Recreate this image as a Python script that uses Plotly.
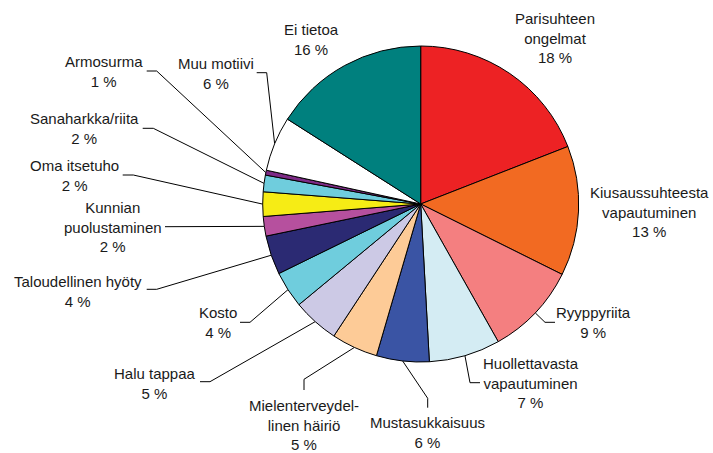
import numpy as np
import plotly.graph_objects as go

# Henkirikosten motiivit (piirakan viipaleet myötäpäivään klo 12:sta)
motiivit = [
    "Parisuhteen<br>ongelmat", "Kiusaussuhteesta<br>vapautuminen", "Ryyppyriita",
    "Huollettavasta<br>vapautuminen", "Mustasukkaisuus", "Mielenterveydel-<br>linen häiriö",
    "Halu tappaa", "Kosto", "Taloudellinen hyöty", "Kunnian<br>puolustaminen",
    "Oma itsetuho", "Sanaharkka/riita", "Armosurma", "Muu motiivi", "Ei tietoa",
]
osuudet = [19.1, 13.3, 9.5, 7.3, 5.4, 4.75, 4.75, 3.75, 4.0, 2.0, 2.5, 1.7, 0.5, 5.6, 16.0]
prosentit = [18, 13, 9, 7, 6, 5, 5, 4, 4, 2, 2, 2, 1, 6, 16]
varit = [
    "#ED2224", "#F26A22", "#F47F80", "#D4ECF3", "#3A54A4", "#FDCB97", "#CCC9E5",
    "#6FCDDD", "#2B2A73", "#B6509E", "#F6EC15", "#6FCDDD", "#7D2B86", "#FFFFFF", "#00807E",
]

W, H = 713, 453
CX, CY, R = 420.7, 204, 158
TEKSTI = "#1a1a1a"

# tekstien keskipisteet ja johtoviivojen taitekohdat (pikseleinä)
tekstipaikat = [
    (555, 37.5), (649, 212), (593.5, 322), (531, 383), (427.7, 432), (303.7, 425),
    (155.4, 383.3), (217.5, 322.3), (78, 291.7), (112.7, 226.7), (74.3, 175.5),
    (84.7, 128.3), (103.7, 71), (215.8, 73.3), (311.7, 39.3),
]
johdot = {
    2: [(545, 322.3), (555, 322.3)],
    3: [(470, 382.7), (480, 382.7)],
    4: [(427.7, 398.3), (427.7, 407.7)],
    5: [(304, 379.3), (304, 390)],
    6: [(210, 381.7), (200, 381.7)],
    7: [(250, 322.3), (240, 322.3)],
    8: [(156.7, 289.3), (146.7, 289.3)],
    9: [(165, 226.7)],
    10: [(133.3, 175), (122.7, 175)],
    11: [(153.3, 128.3), (142.7, 128.3)],
    12: [(156.7, 71), (146.7, 71)],
    13: [(266.7, 72.7), (256.7, 72.7)],
}

fig = go.Figure()
fig.add_trace(go.Pie(
    labels=[m.replace("<br>", " ") for m in motiivit],
    values=osuudet,
    sort=False,
    direction="clockwise",
    rotation=0,
    textinfo="none",
    hoverinfo="label+percent",
    marker=dict(colors=varit, line=dict(color="#000000", width=1)),
    domain=dict(x=[(CX - R) / W, (CX + R) / W], y=[1 - (CY + R) / H, 1 - (CY - R) / H]),
    showlegend=False,
))

# viipaleiden keskikulmat johtoviivojen alkupisteiksi
osuus = np.array(osuudet) / sum(osuudet)
keski = (np.cumsum(osuus) - osuus / 2) * 2 * np.pi
for i, pisteet in johdot.items():
    x0 = CX + R * np.sin(keski[i])
    y0 = CY - R * np.cos(keski[i])
    xs = [x0] + [p[0] for p in pisteet]
    ys = [y0] + [p[1] for p in pisteet]
    fig.add_trace(go.Scatter(
        x=xs, y=ys, mode="lines", line=dict(color="#000000", width=1),
        hoverinfo="skip", showlegend=False,
    ))

for nimi, pros, (tx, ty) in zip(motiivit, prosentit, tekstipaikat):
    fig.add_annotation(
        x=tx, y=ty, xref="x", yref="y",
        text=f"{nimi}<br>{pros} %",
        showarrow=False, align="center",
        xanchor="center", yanchor="middle",
        font=dict(family="Arial, Liberation Sans, sans-serif", size=15, color=TEKSTI),
    )

fig.update_layout(
    width=W, height=H,
    margin=dict(l=0, r=0, t=0, b=0),
    plot_bgcolor="#FFFFFF",
    paper_bgcolor="#FFFFFF",
    xaxis=dict(range=[0, W], visible=False, fixedrange=True, domain=[0, 1]),
    yaxis=dict(range=[H, 0], visible=False, fixedrange=True, domain=[0, 1]),
)

# sivun oletusreunus pois, jotta kuva alkaa ikkunan kulmasta
fig.write_html("out.html", config={"displayModeBar": False},
               post_script="document.body.style.margin='0';")
